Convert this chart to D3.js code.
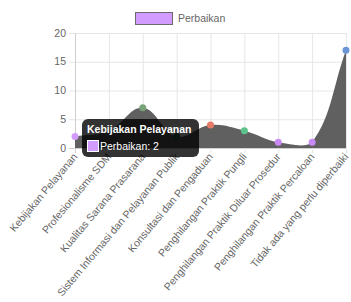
<!DOCTYPE html>
<html lang="en">
<head>
  <meta charset="utf-8">
  <title>Perbaikan</title>
  <style>
    body { margin: 0; padding: 0; background-color: #fff; font-family: 'Liberation Sans', Arial, sans-serif; }
  </style>
</head>
<body>
  <div id="my_dataviz"></div>
  <script src="https://d3js.org/d3.v7.min.js"></script>
  <script>
    // data
    var categories = [
      "Kebijakan Pelayanan",
      "Profesionalisme SDM",
      "Kualitas Sarana Prasarana",
      "Sistem Informasi dan Pelayanan Publik",
      "Konsultasi dan Pengaduan",
      "Penghilangan Praktik Pungli",
      "Penghilangan Praktik Diluar Prosedur",
      "Penghilangan Praktik Percaloan",
      "Tidak ada yang perlu diperbaiki"
    ];
    var perbaikan = [2, 3, 7, 2, 4, 3, 1, 1, 17];
    var pointColors = ["#d29cff", "#8a8a8a", "#7aa37a", "#2f5f43", "#e57a68", "#5cc48a", "#c98af5", "#c98af5", "#6a96d8"];
    var yTicks = [0, 5, 10, 15, 20];

    var W = 351, H = 302;
    var plotLeft = 75, plotRight = 346, plotTop = 33, plotBottom = 148;

    var svg = d3.select("#my_dataviz")
      .append("svg")
      .attr("width", W)
      .attr("height", H);

    var x = d3.scalePoint().domain(categories).range([plotLeft, plotRight]);
    var y = d3.scaleLinear().domain([0, 20]).range([plotBottom, plotTop]);

    // grid
    svg.append("g")
      .selectAll("line")
      .data(yTicks)
      .enter()
      .append("line")
      .attr("x1", plotLeft - 6).attr("x2", plotRight)
      .attr("y1", d => y(d) + 0.5).attr("y2", d => y(d) + 0.5)
      .attr("stroke", d => d === 0 ? "#cfcfcf" : "#e6e6e6")
      .attr("stroke-width", 1);

    svg.append("g")
      .selectAll("line")
      .data(categories)
      .enter()
      .append("line")
      .attr("x1", d => x(d) + 0.5).attr("x2", d => x(d) + 0.5)
      .attr("y1", plotTop).attr("y2", plotBottom + 5)
      .attr("stroke", (d, i) => i === 0 ? "#cfcfcf" : "#e6e6e6")
      .attr("stroke-width", 1);

    // y tick labels
    svg.append("g")
      .selectAll("text")
      .data(yTicks)
      .enter()
      .append("text")
      .attr("x", plotLeft - 9)
      .attr("y", d => y(d))
      .attr("dy", "0.35em")
      .attr("text-anchor", "end")
      .attr("fill", "#666")
      .style("font-size", "10.5px")
      .text(d => d);

    // x tick labels
    svg.append("g")
      .selectAll("text")
      .data(categories)
      .enter()
      .append("text")
      .attr("transform", d => "translate(" + (x(d) + 3) + "," + (plotBottom + 9) + ") rotate(-50)")
      .attr("text-anchor", "end")
      .attr("fill", "#666")
      .style("font-size", "10.5px")
      .text(d => d);

    // chart.js style spline (tension 0.4), control points capped to chart area
    var pts = categories.map((c, i) => ({ x: x(c), y: y(perbaikan[i]) }));
    var t = 0.4;
    pts.forEach(function (p, i) {
      var prev = pts[i - 1] || p, next = pts[i + 1] || p;
      var d01 = Math.hypot(p.x - prev.x, p.y - prev.y);
      var d12 = Math.hypot(next.x - p.x, next.y - p.y);
      var s01 = d01 / (d01 + d12 || 1), s12 = d12 / (d01 + d12 || 1);
      var fa = t * s01, fb = t * s12;
      p.c1x = p.x - fa * (next.x - prev.x);
      p.c1y = p.y - fa * (next.y - prev.y);
      p.c2x = p.x + fb * (next.x - prev.x);
      p.c2y = p.y + fb * (next.y - prev.y);
      p.c1y = Math.max(plotTop, Math.min(plotBottom, p.c1y));
      p.c2y = Math.max(plotTop, Math.min(plotBottom, p.c2y));
      p.c1x = Math.max(plotLeft, Math.min(plotRight, p.c1x));
      p.c2x = Math.max(plotLeft, Math.min(plotRight, p.c2x));
    });

    var path = d3.path();
    path.moveTo(pts[0].x, y(0));
    path.lineTo(pts[0].x, pts[0].y);
    for (var i = 1; i < pts.length; i++) {
      path.bezierCurveTo(pts[i - 1].c2x, pts[i - 1].c2y, pts[i].c1x, pts[i].c1y, pts[i].x, pts[i].y);
    }
    path.lineTo(pts[pts.length - 1].x, y(0));
    path.closePath();

    svg.append("path")
      .attr("d", path.toString())
      .attr("fill", "#606060")
      .attr("stroke", "none");

    // points
    svg.append("g")
      .selectAll("circle")
      .data(perbaikan)
      .enter()
      .append("circle")
      .attr("cx", (d, i) => x(categories[i]))
      .attr("cy", d => y(d))
      .attr("r", 3.5)
      .attr("fill", (d, i) => pointColors[i]);

    // legend
    var legend = svg.append("g");
    legend.append("rect")
      .attr("x", 135.5).attr("y", 12.5)
      .attr("width", 37).attr("height", 12)
      .attr("fill", "#d29cff")
      .attr("stroke", "#6b6b6b")
      .attr("stroke-width", 1);
    legend.append("text")
      .attr("x", 178).attr("y", 18.5)
      .attr("dy", "0.35em")
      .attr("fill", "#666")
      .style("font-size", "10.5px")
      .text("Perbaikan");

    // tooltip on first point
    var tip = svg.append("g");
    tip.append("rect")
      .attr("x", 82).attr("y", 119)
      .attr("width", 117).attr("height", 38)
      .attr("rx", 6)
      .attr("fill", "rgba(0,0,0,0.8)");
    tip.append("text")
      .attr("x", 87).attr("y", 133)
      .attr("fill", "#fff")
      .style("font-size", "10.5px")
      .style("font-weight", "bold")
      .text(categories[0]);
    tip.append("rect")
      .attr("x", 87.5).attr("y", 140.5)
      .attr("width", 11).attr("height", 11)
      .attr("fill", "#d29cff")
      .attr("stroke", "#fff")
      .attr("stroke-width", 1);
    tip.append("text")
      .attr("x", 100).attr("y", 150)
      .attr("fill", "#fff")
      .style("font-size", "10.5px")
      .text("Perbaikan: " + perbaikan[0]);
  </script>
</body>
</html>
